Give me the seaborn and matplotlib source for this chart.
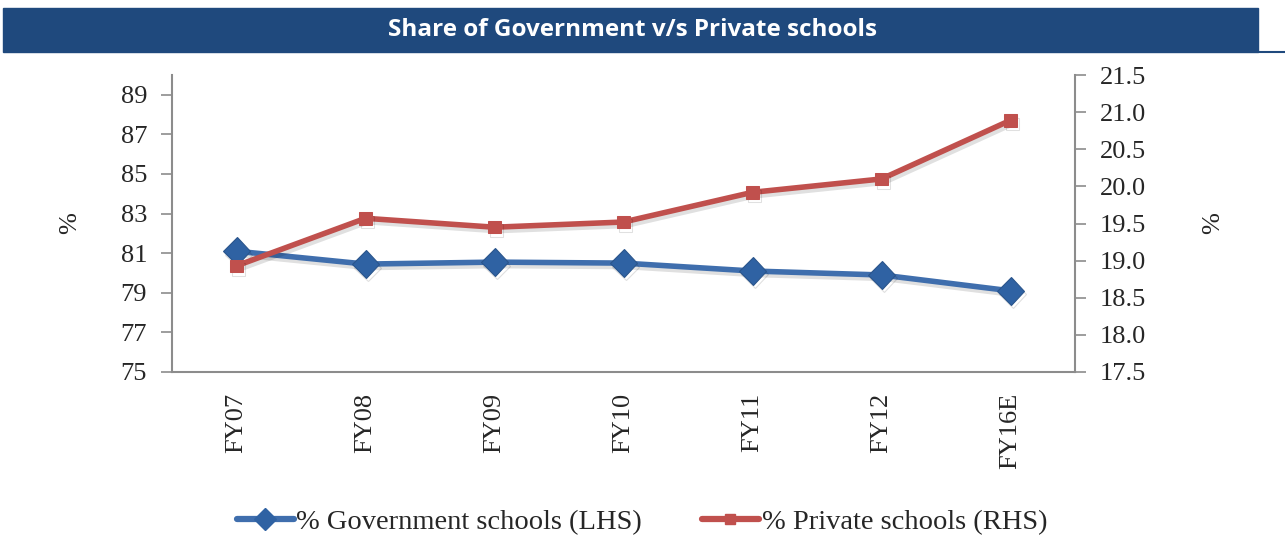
import matplotlib
matplotlib.use("Agg")
import matplotlib.pyplot as plt
import matplotlib.patheffects as pe
from matplotlib.lines import Line2D
from matplotlib.patches import Rectangle
import seaborn as sns
import pandas as pd
import numpy as np

categories = ["FY07", "FY08", "FY09", "FY10", "FY11", "FY12", "FY16E"]
govt_share = [81.1, 80.45, 80.55, 80.5, 80.1, 79.9, 79.1]
private_share = [18.93, 19.57, 19.45, 19.52, 19.92, 20.1, 20.89]
left_ticks = [75, 77, 79, 81, 83, 85, 87, 89]
right_ticks = [17.5, 18.0, 18.5, 19.0, 19.5, 20.0, 20.5, 21.0, 21.5]

sns.set_theme(style="white")
plt.rcParams['font.family'] = ['Liberation Serif', 'DejaVu Serif']

BLUE = "#3F6EAD"
BLUE_M = "#2F62A3"
RED = "#C0504D"
GRAY = "#8C8C8C"
FS = 19

df = pd.DataFrame({"cat": categories, "gov": govt_share, "pri": private_share})

fig = plt.figure(figsize=(12.85, 5.58), dpi=100)
ax = fig.add_axes([172/1285, 1-372/558, (1075-172)/1285, (372-75)/558])
ax2 = ax.twinx()

shadow = [pe.SimpleLineShadow(offset=(1.5, -2.5), shadow_color="black", alpha=0.12), pe.Normal()]

sns.lineplot(data=df, x="cat", y="gov", ax=ax, color=BLUE, lw=4, marker="D",
             markersize=14, markerfacecolor=BLUE_M, markeredgecolor="#2A558C",
             markeredgewidth=0.8, sort=False, zorder=3, path_effects=shadow)
sns.lineplot(data=df, x="cat", y="pri", ax=ax2, color=RED, lw=4, marker="s",
             markersize=9, markerfacecolor=RED, markeredgecolor=RED, sort=False, zorder=3,
             path_effects=shadow)

ax.set_xlim(-0.5, len(categories) - 0.5)
ax.set_ylim(75, 90)
ax2.set_ylim(17.5, 21.5)
ax.set_yticks(left_ticks)
ax.set_yticklabels([str(t) for t in left_ticks], fontsize=FS)
ax2.set_yticks(right_ticks)
ax2.set_yticklabels([f"{t:.1f}" for t in right_ticks], fontsize=FS)

ax.set_xticks(range(len(categories)))
ax.set_xticklabels(categories, rotation=90, fontsize=FS)
ax.set_xticks(np.arange(-0.5, len(categories)), minor=True)
ax.tick_params(axis="x", which="major", length=0, pad=15)
ax.tick_params(axis="x", which="minor", length=8, color=GRAY, width=1.2, direction="out")
ax.tick_params(axis="y", length=8, color=GRAY, width=1.2, direction="out", left=True, pad=10)
ax2.tick_params(axis="y", length=8, color=GRAY, width=1.2, direction="out", right=True, pad=10)

ax.set_xlabel("")
ax.set_ylabel("%", fontsize=FS, labelpad=28)
ax2.set_ylabel("%", fontsize=FS, labelpad=40)

for a in (ax, ax2):
    for s in a.spines.values():
        s.set_visible(False)
    a.grid(False)
ax.spines["left"].set_visible(True)
ax.spines["bottom"].set_visible(True)
ax2.spines["right"].set_visible(True)
for s in (ax.spines["left"], ax.spines["bottom"], ax2.spines["right"]):
    s.set_color(GRAY)
    s.set_linewidth(1.5)

# Title banner
fig.patches.append(Rectangle((3/1285, 1-52/558), (1258-3)/1285, 44/558,
                             transform=fig.transFigure, color="#1F497D", zorder=0))
fig.add_artist(Line2D([1258/1285, 1.0], [1-52/558, 1-52/558], transform=fig.transFigure,
                      color="#1F497D", lw=1.5))
fig.text(632/1285, 1-30/558, "Share of Government v/s Private schools", ha="center", va="center",
         color="white", fontsize=17.5, fontweight="bold", family=["Open Sans", "DejaVu Sans"])

handles = [
    Line2D([], [], color=BLUE, lw=4.5, marker="D", markersize=11, markerfacecolor=BLUE_M,
           markeredgecolor=BLUE_M),
    Line2D([], [], color=RED, lw=4.5, marker="s", markersize=7, markerfacecolor=RED,
           markeredgecolor=RED),
]
fig.legend(handles, ["% Government schools (LHS)", "% Private schools (RHS)"],
           loc="center", bbox_to_anchor=(642/1285, 1-522/558), ncol=2, frameon=False,
           fontsize=20.5, handlelength=2.0, handletextpad=0.1, columnspacing=2.1)

fig.savefig("out.png", dpi=100)
